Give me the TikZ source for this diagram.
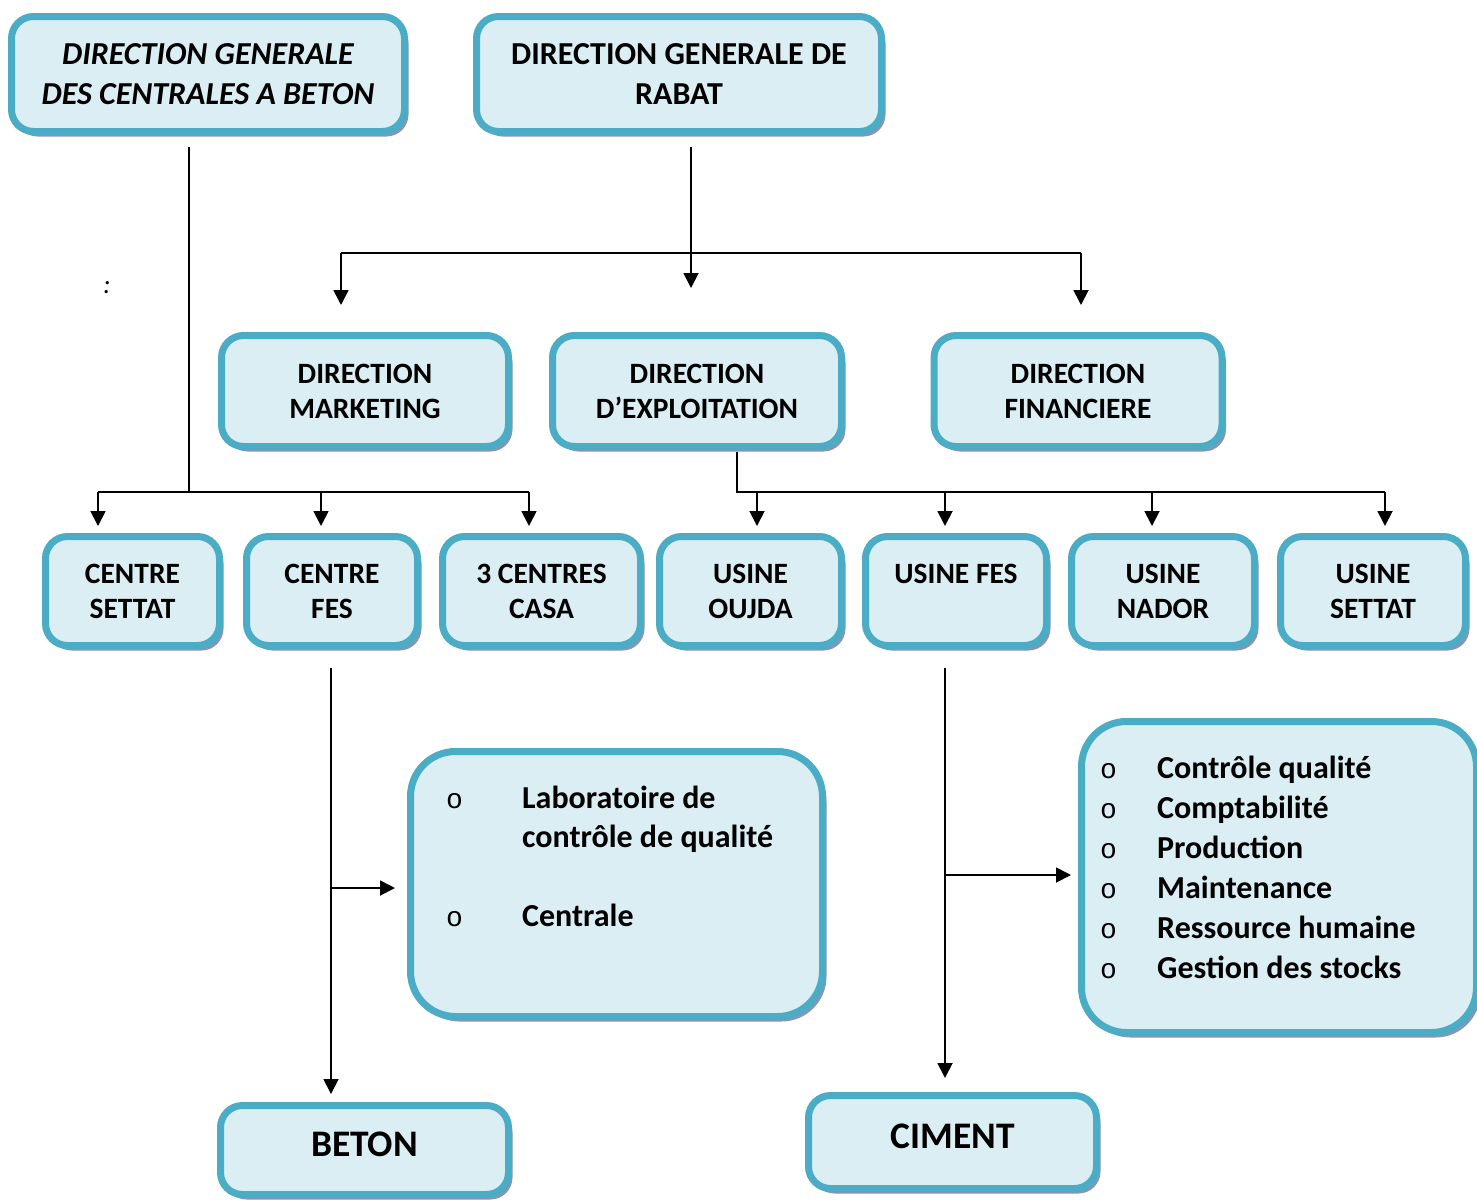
\documentclass[tikz,border=0pt]{standalone}
\usepackage{fontspec}
\setmainfont{Carlito}
\newfontfamily\bulletfont{Liberation Mono}
\usetikzlibrary{arrows.meta,shadows}

\definecolor{bfill}{HTML}{DAEEF3}
\definecolor{bdraw}{HTML}{4BACC6}
\definecolor{bshadow}{RGB}{135,148,182}

\tikzset{
  box/.style={draw=bdraw, fill=bfill, line width=7pt, rounded corners=22pt,
    align=center, inner sep=0pt,
    font=\fontsize{29.5}{35}\selectfont\bfseries,
    drop shadow={shadow xshift=4pt, shadow yshift=-5pt, fill=bshadow, opacity=1}},
  bigbox/.style={box, rounded corners=45pt},
  topfont/.style={font=\fontsize{32}{40}\selectfont\bfseries},
  topitfont/.style={font=\fontsize{32}{40}\selectfont\bfseries\itshape},
  endfont/.style={font=\fontsize{37.5}{44}\selectfont\bfseries, text depth=11pt},
  listtext/.style={inner sep=0pt, anchor=base west, font=\fontsize{32}{40}\selectfont\bfseries},
  bullettext/.style={inner sep=0pt, anchor=base west, font=\fontsize{28}{40}\selectfont\bulletfont},
  conn/.style={line width=1.8pt, draw=black},
  arr/.style={conn, -{Triangle[length=15pt,width=15pt]}},
}

\begin{document}
\begin{tikzpicture}[x=1pt,y=-1pt]
\useasboundingbox (0,0) rectangle (1477,1200);

% top boxes
\node[box, topitfont, minimum width=393, minimum height=115] (dgc) at (208,74) {DIRECTION GENERALE\\DES CENTRALES A BETON};
\node[box, topfont, minimum width=405, minimum height=115] (dgr) at (679,74) {DIRECTION GENERALE DE\\RABAT};

% directions
\node[box, minimum width=287, minimum height=111] (dm) at (365,391) {DIRECTION\\MARKETING};
\node[box, minimum width=289, minimum height=111] (de) at (697,391) {DIRECTION\\D’EXPLOITATION};
\node[box, minimum width=288, minimum height=111] (df) at (1078,391) {DIRECTION\\FINANCIERE};

% row boxes
\node[box, minimum width=174, minimum height=109] (cs) at (132.5,591) {CENTRE\\SETTAT};
\node[box, minimum width=171, minimum height=109] (cf) at (332,591) {CENTRE\\FES};
\node[box, minimum width=198, minimum height=109] (cc) at (541.5,591) {3 CENTRES\\CASA};
\node[box, minimum width=182, minimum height=109] (uo) at (750.5,591) {USINE\\OUJDA};
\node[box, minimum width=181, minimum height=109] (uf) at (956,591) {USINE FES\\\mbox{}};
\node[box, minimum width=183, minimum height=109] (un) at (1163,591) {USINE\\NADOR};
\node[box, minimum width=185, minimum height=109] (us) at (1373,591) {USINE\\SETTAT};

% big boxes
\node[bigbox, minimum width=412, minimum height=265] (lab) at (616.5,884) {};
\node[bigbox, minimum width=395, minimum height=311] (lst) at (1279,877) {};

% bottom boxes
\node[box, endfont, minimum width=288, minimum height=89] (bet) at (364.5,1150) {BETON};
\node[box, endfont, minimum width=288, minimum height=93] (cim) at (952.5,1142) {CIMENT};

% colon
\node[inner sep=0pt, font=\fontsize{27}{30}\selectfont\itshape] (colon) at (107,288) {:};

% lab contents
\node[bullettext] (lb1) at (446,808) {o};
\node[bullettext] (lb2) at (446,926) {o};
\node[listtext] (lt1) at (522,808) {Laboratoire de};
\node[listtext] (lt1b) at (522,847) {contrôle de qualité};
\node[listtext] (lt2) at (522,926) {Centrale};

% list contents
\node[bullettext] (b1) at (1100,778) {o};
\node[bullettext] (b2) at (1100,818) {o};
\node[bullettext] (b3) at (1100,858) {o};
\node[bullettext] (b4) at (1100,898) {o};
\node[bullettext] (b5) at (1100,938) {o};
\node[bullettext] (b6) at (1100,978) {o};
\node[listtext] (t1) at (1157,778) {Contrôle qualité};
\node[listtext] (t2) at (1157,818) {Comptabilité};
\node[listtext] (t3) at (1157,858) {Production};
\node[listtext] (t4) at (1157,898) {Maintenance};
\node[listtext] (t5) at (1157,938) {Ressource humaine};
\node[listtext] (t6) at (1157,978) {Gestion des stocks};

% coordinates for connectors
\coordinate (c1s) at (189,147);
\coordinate (c1j) at (189,492);
\coordinate (c1l) at (98,492);
\coordinate (c1m) at (321,492);
\coordinate (c1r) at (529,492);
\coordinate (a1) at (98,526);
\coordinate (a2) at (321,526);
\coordinate (a3) at (529,526);

\coordinate (c2s) at (691,147);
\coordinate (c2e) at (691,288);
\coordinate (c2l) at (341,253);
\coordinate (c2r) at (1081,253);
\coordinate (a4) at (341,305);
\coordinate (a5) at (1081,305);

\coordinate (c3s) at (737,452);
\coordinate (c3j) at (737,492);
\coordinate (c3a) at (757,492);
\coordinate (c3b) at (945,492);
\coordinate (c3c) at (1152,492);
\coordinate (c3d) at (1385,492);
\coordinate (a6) at (757,526);
\coordinate (a7) at (945,526);
\coordinate (a8) at (1152,526);
\coordinate (a9) at (1385,526);

\coordinate (c4s) at (331,668);
\coordinate (c4e) at (331,1094);
\coordinate (c4j) at (331,888);
\coordinate (c4a) at (395,888);

\coordinate (c5s) at (945,668);
\coordinate (c5e) at (945,1078);
\coordinate (c5j) at (945,875);
\coordinate (c5a) at (1071,875);

% connectors
\draw[conn] (c1s) -- (c1j);
\draw[conn] (c1l) -- (c1r);
\draw[arr] (c1l) -- (a1);
\draw[arr] (c1m) -- (a2);
\draw[arr] (c1r) -- (a3);

\draw[arr] (c2s) -- (c2e);
\draw[conn] (c2l) -- (c2r);
\draw[arr] (c2l) -- (a4);
\draw[arr] (c2r) -- (a5);

\draw[conn] (c3s) -- (c3j) -- (c3d);
\draw[arr] (c3a) -- (a6);
\draw[arr] (c3b) -- (a7);
\draw[arr] (c3c) -- (a8);
\draw[arr] (c3d) -- (a9);

\draw[arr] (c4s) -- (c4e);
\draw[arr] (c4j) -- (c4a);

\draw[arr] (c5s) -- (c5e);
\draw[arr] (c5j) -- (c5a);
\end{tikzpicture}
\end{document}
